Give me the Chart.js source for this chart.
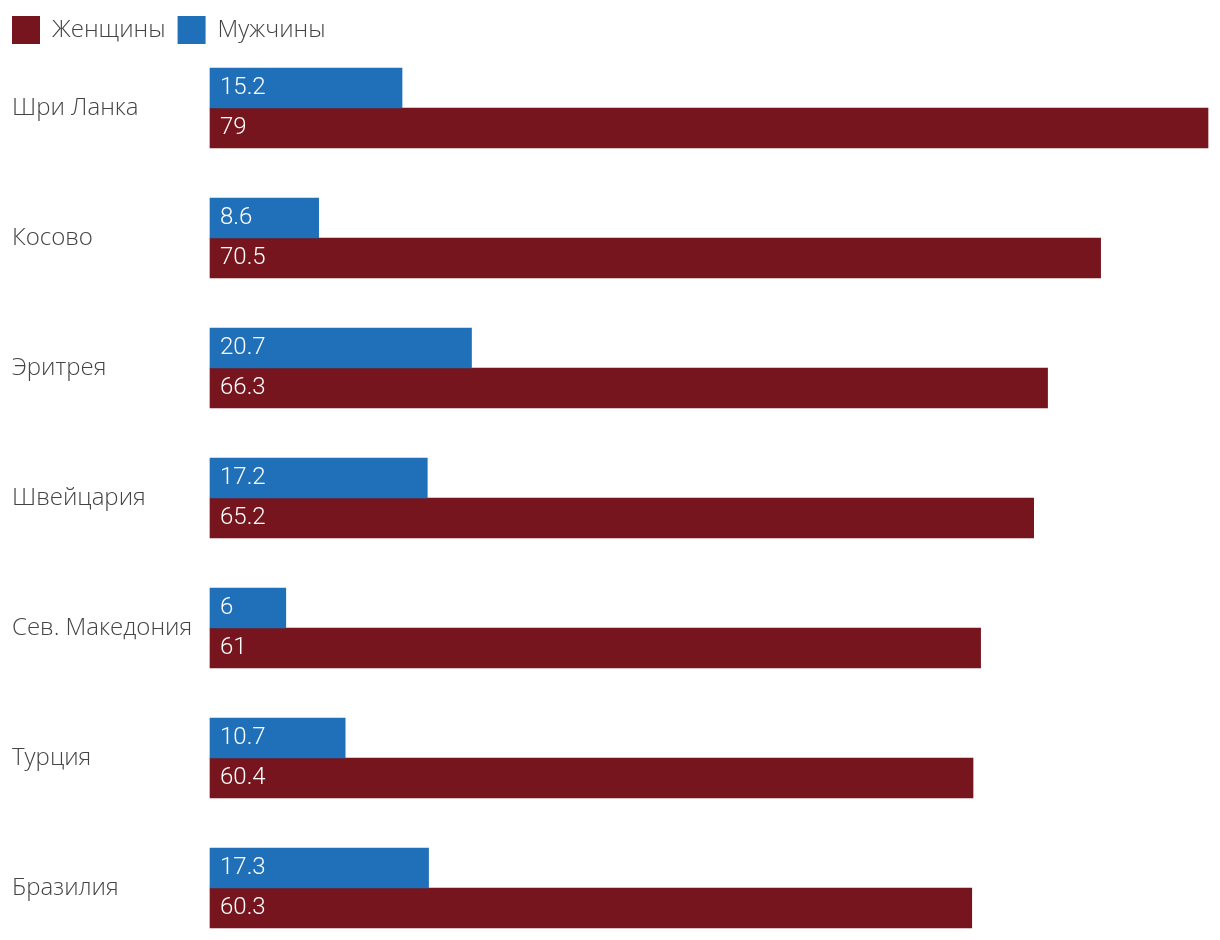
<!DOCTYPE html>
<html lang="ru">
<head>
<meta charset="utf-8">
<title>Женщины и мужчины</title>
<script src="https://cdn.jsdelivr.net/npm/chart.js@4/dist/chart.umd.min.js"></script>
<style>
    html, body { margin: 0; padding: 0; background: #fff; }
    #wrap { width: 1220px; height: 940px; position: relative; }
</style>
</head>
<body>
<div id="wrap"><canvas id="barChart"></canvas></div>
<script>
// данные
const countries = ['Шри Ланка', 'Косово', 'Эритрея', 'Швейцария', 'Сев. Македония', 'Турция', 'Бразилия'];
const womenValues = [79, 70.5, 66.3, 65.2, 61, 60.4, 60.3];
const menValues = [15.2, 8.6, 20.7, 17.2, 6, 10.7, 17.3];

const WOMEN_COLOR = '#76151d';
const MEN_COLOR = '#1f70b8';
const TEXT_COLOR = '#444444';

// подписи значений внутри полос
const valueLabels = {
    id: 'valueLabels',
    afterDatasetsDraw(chart) {
        const ctx = chart.ctx;
        ctx.save();
        ctx.font = '300 24px Roboto, "Open Sans", sans-serif';
        ctx.fillStyle = '#ffffff';
        ctx.textAlign = 'left';
        ctx.textBaseline = 'middle';
        chart.data.datasets.forEach((ds, i) => {
            const meta = chart.getDatasetMeta(i);
            meta.data.forEach((bar, j) => {
                ctx.fillText(String(ds.data[j]), bar.base + 10, bar.y);
            });
        });
        ctx.restore();
    }
};

// высота легенды и отступ подписей стран
const layoutFix = {
    id: 'layoutFix',
    afterInit(chart) {
        const legend = chart.legend;
        const fit = legend.fit;
        legend.fit = function () {
            fit.call(this);
            this.height = 104;
        };
    },
    afterLayout(chart) {
        chart.scales.y.left = 12;
    }
};

new Chart(document.getElementById('barChart'), {
    type: 'bar',
    data: {
        labels: countries,
        datasets: [
            { label: 'Мужчины', data: menValues, backgroundColor: MEN_COLOR, barThickness: 40, clip: false },
            { label: 'Женщины', data: womenValues, backgroundColor: WOMEN_COLOR, barThickness: 40, clip: false }
        ]
    },
    options: {
        indexAxis: 'y',
        responsive: true,
        maintainAspectRatio: false,
        animation: false,
        layout: {
            padding: { top: 4, left: 0, right: 12, bottom: 52 }
        },
        plugins: {
            legend: {
                position: 'top',
                align: 'start',
                reverse: true,
                labels: {
                    boxWidth: 28,
                    boxHeight: 28,
                    padding: 12,
                    color: TEXT_COLOR,
                    font: { family: '"Open Sans", sans-serif', size: 24, weight: 300 }
                }
            },
            tooltip: { enabled: false }
        },
        scales: {
            x: {
                display: false,
                min: 0,
                max: 79
            },
            y: {
                offset: false,
                grid: { display: false },
                border: { display: false },
                ticks: {
                    crossAlign: 'far',
                    color: TEXT_COLOR,
                    font: { family: '"Open Sans", sans-serif', size: 24, weight: 300 }
                },
                afterFit(scale) {
                    scale.width = 210;
                }
            }
        }
    },
    plugins: [valueLabels, layoutFix]
});
</script>
</body>
</html>
